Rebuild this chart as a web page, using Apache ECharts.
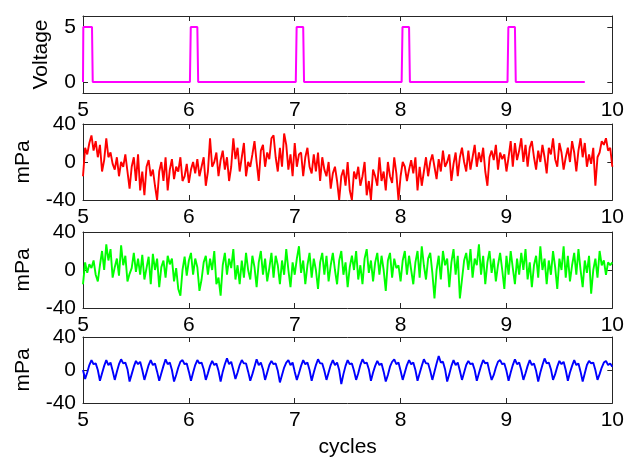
<!DOCTYPE html>
<html>
<head>
<meta charset="utf-8">
<script src="https://cdn.jsdelivr.net/npm/echarts@6/dist/echarts.min.js"></script>
<style>
  html, body { margin: 0; padding: 0; background: #fff; }
  #chart { width: 627px; height: 459px; }
</style>
</head>
<body>
<div id="chart"></div>
<script>
// time range (cycles)
const T_START = 5
const T_END = 10
const X_TICKS = [5, 6, 7, 8, 9, 10]

// trigger pulse (voltage)
const VOLT_X = [5, 5.003, 5.085, 5.092, 6.01, 6.018, 6.08, 6.088, 7.01, 7.018, 7.08, 7.088,
  8.01, 8.018, 8.08, 8.088, 9.01, 9.018, 9.08, 9.088, 9.74]
const VOLT_Y = [0, 5, 5, 0, 0, 5, 5, 0, 0, 5, 5, 0, 0, 5, 5, 0, 0, 5, 5, 0, 0]

// pressure signals, mPa, evenly spaced from T_START to T_END
const RED = [
  -15, 15, 8, 20, 28, 12, 22, 5, 18, -10, 2, 25, 5, 10, -2, -8, 5, -15, 0, -5, 8, -10, -28, -5, 5,
  -20, 8, -30, -10, -35, -5, 2, -15, -8, -25, -40, -10, 0, -20, 5, -30, -8, 3, -18, -5, -10, 5, -20, -15, -2,
  -22, -8, 0, -12, 3, -15, -5, 5, -25, -10, 25, -5, 0, 10, -15, 2, 12, -8, 5, -20, -5, 25, 3, 15, -10,
  5, 20, -15, 0, -5, 8, 22, 0, -20, 12, 18, -5, 10, 3, 25, 28, 5, -10, 15, -5, 30, 18, -8, 8, -15,
  20, -5, 8, 10, -15, 5, 15, -5, -12, 8, -10, 10, -20, 5, -8, -15, 0, -28, -12, -5, -20, -40, -15, -8, -25,
  0, -30, -40, -10, -18, -5, -25, -15, 0, -35, -20, -40, -8, -15, -25, 5, -20, -10, -30, 0, -15, -22, 5, -12, -40,
  -15, 0, -5, -20, -8, 2, -12, 5, -30, -5, -25, -10, 5, -15, 0, 8, -5, -18, 3, -10, 12, -5, 0, 8, -20,
  -2, 10, -15, 5, 15, 0, -10, 12, -8, 5, 18, -5, 10, 0, 15, -10, -25, 5, 12, 2, 18, -8, 10, 3, 8,
  -10, 5, 22, -5, 20, 2, 12, 25, 0, 18, -5, 15, 22, 5, -8, 12, 0, 18, 5, -12, 15, 8, 25, 3, -5,
  20, 10, -8, 5, 15, 0, 22, 10, -10, 12, 25, 5, 20, -5, 8, -2, 15, -25, 5, 10, 22, 18, 25, 12, 15, -5
]
const GREEN = [
  -15, 8, -3, 6, 2, 10, -5, -12, 5, 20, 0, 27, 10, 22, -8, 3, 12, -6, 26, 5, 15, -12, -4, 2, 18,
  -2, 12, -5, 16, -10, 2, 14, -15, 17, 0, 12, -18, 3, 10, -8, 15, 6, 12, -12, 2, -20, -27, 0, 14, -6,
  10, 18, -5, 12, 3, -22, -10, 8, 15, -5, 12, 0, 20, -15, -8, -27, 5, 18, -5, 12, 2, 22, -10, 5, -15,
  10, -8, 18, 0, -10, 15, 3, -18, 8, 20, -5, 12, -12, 2, 18, -8, 15, 5, -15, 10, -5, 22, 0, -18, 8,
  -5, 12, 25, -3, 10, -15, 5, 18, -8, 12, 0, -20, 8, 18, -5, 15, -12, 5, 18, 0, -15, 10, 20, -5, 8,
  -18, 3, 15, 0, 20, -10, 5, -15, 12, 22, -3, 10, -12, 8, 18, -5, 15, 0, -22, 10, 18, -8, 12, 2, 5,
  -12, 10, 20, -5, 15, 0, -15, 8, 20, -8, 25, 5, -10, 12, 18, -3, -30, 0, 15, -10, 20, 5, 12, -18, 8,
  22, -5, 15, -30, -10, 10, 18, 0, 22, -8, 12, 5, 27, -5, 15, -15, 8, 20, -3, 12, -12, 5, 18, 0, -20,
  15, -5, 20, 2, -15, 12, -5, 18, 0, 22, -10, 8, -18, 5, 15, -8, 25, 0, 12, -15, 10, -5, 20, 3, -20,
  12, 0, 25, -8, 15, -12, 5, 18, -5, 22, 0, -18, 10, -3, 15, -25, 0, 12, -8, 20, 5, 10, -5, 8, 5, 8
]
const BLUE = [
  0,
  -11, -3, 6, 12, 7, 8, 0, -13, -4, 5, 12, 6, 9, -1, -12, -2, 7, 13, 8, 9, 1, -14, -5, 4, 11, 7, 10, 0,
  -12, -3, 6, 12, 6, 8, -2, -13, -4, 5, 13, 7, 9, 0, -14, -6, 3, 10, 12, 7, 8, -2,
  -13, -3, 6, 12, 8, 9, 1, -12, -4, 5, 11, 6, 8, -1, -14, -2, 7, 14, 7, 10, 0, -11, -3, 6, 12, 8, 8, -2,
  -13, -5, 4, 13, 6, 9, 1, -12, -3, 6, 11, 7, 8, -1, -15, -6, 3, 9, 12, 6, 9, -2,
  -12, -4, 5, 12, 7, 9, 0, -13, -3, 6, 13, 8, 8, -1, -12, -3, 6, 12, 6, 9, 0, -17, -5, 5, 12, 7, 8, -1,
  -12, -4, 6, 13, 8, 9, 1, -13, -3, 5, 11, 6, 8, -2, -14, -6, 4, 10, 13, 7, 9, -1,
  -12, -3, 6, 12, 7, 9, 0, -13, -4, 5, 13, 8, 8, -1, -12, -2, 8, 17, 9, 10, 1, -14, -5, 5, 12, 6, 9, -1,
  -12, -3, 6, 11, 7, 8, 0, -13, -4, 5, 12, 8, 9, -2, -12, -6, 3, 10, 12, 7, 8, -1,
  -13, -3, 6, 13, 7, 9, 0, -12, -4, 5, 12, 6, 8, -1, -14, -3, 6, 14, 8, 9, 1, -12, -5, 4, 11, 7, 10, 0,
  -13, -3, 5, 12, 6, 8, -2, -14, -4, 6, 11, 8, 9, 0, -12, -5, 3, 9, 11, 6, 8, 4
]

const FONT = 'Liberation Sans, Arial, sans-serif'
const AXIS_COLOR = '#262626'

// plot boxes, top/height in px
const PANELS = [
  { top: 16, height: 77 },
  { top: 124, height: 76 },
  { top: 232, height: 76 },
  { top: 337, height: 78 },
]

function toPairs(values) {
  const step = (T_END - T_START) / (values.length - 1)
  return values.map((v, i) => [T_START + i * step, v])
}

const chart = echarts.init(document.getElementById('chart'), null, { renderer: 'canvas' })

const grids = PANELS.map(p => ({ left: 83, right: 13, top: p.top, height: p.height }))

const xAxes = []
const yAxes = []
PANELS.forEach((p, i) => {
  const base = {
    type: 'value',
    gridIndex: i,
    min: T_START,
    max: T_END,
    interval: 1,
    axisLine: { show: true, onZero: false, lineStyle: { color: AXIS_COLOR, width: 1 } },
    axisTick: { show: true, inside: true, length: 5, lineStyle: { color: AXIS_COLOR } },
    splitLine: { show: false },
  }
  xAxes.push({
    ...base,
    position: 'bottom',
    axisLabel: { color: '#000', fontSize: 21, fontFamily: FONT, margin: 7 },
    name: i === 3 ? 'cycles' : '',
    nameLocation: 'middle',
    nameGap: 34,
    nameTextStyle: { color: '#000', fontSize: 21, fontFamily: FONT },
  })
  xAxes.push({ ...base, position: 'top', axisLabel: { show: false } })

  const isVolt = i === 0
  const yBase = {
    type: 'value',
    gridIndex: i,
    min: isVolt ? -1 : -40,
    max: isVolt ? 6 : 40,
    interval: isVolt ? 1 : 40,
    axisLine: { show: true, onZero: false, lineStyle: { color: AXIS_COLOR, width: 1 } },
    axisTick: {
      show: true, inside: true, length: 5, lineStyle: { color: AXIS_COLOR },
      customValues: isVolt ? [0, 5] : undefined,
    },
    splitLine: { show: false },
  }
  yAxes.push({
    ...yBase,
    position: 'left',
    axisLabel: {
      color: '#000', fontSize: 21, fontFamily: FONT, margin: 7,
      customValues: isVolt ? [0, 5] : undefined,
    },
    name: isVolt ? 'Voltage' : 'mPa',
    nameLocation: 'middle',
    nameRotate: 90,
    nameGap: isVolt ? 31 : 49,
    nameTextStyle: { color: '#000', fontSize: 21, fontFamily: FONT },
  })
  yAxes.push({ ...yBase, position: 'right', axisLabel: { show: false } })
})

const lineSeries = (idx, data, color, width) => ({
  type: 'line',
  xAxisIndex: idx * 2,
  yAxisIndex: idx * 2,
  data: data,
  showSymbol: false,
  lineStyle: { color: color, width: width },
  clip: true,
})

const option = {
  animation: false,
  backgroundColor: '#fff',
  grid: grids,
  xAxis: xAxes,
  yAxis: yAxes,
  series: [
    lineSeries(0, VOLT_X.map((x, i) => [x, VOLT_Y[i]]), '#ff00ff', 2),
    lineSeries(1, toPairs(RED), '#ff0000', 1.9),
    lineSeries(2, toPairs(GREEN), '#00ff00', 1.9),
    lineSeries(3, toPairs(BLUE), '#0000ff', 1.9),
  ],
}

chart.setOption(option)
</script>
</body>
</html>
